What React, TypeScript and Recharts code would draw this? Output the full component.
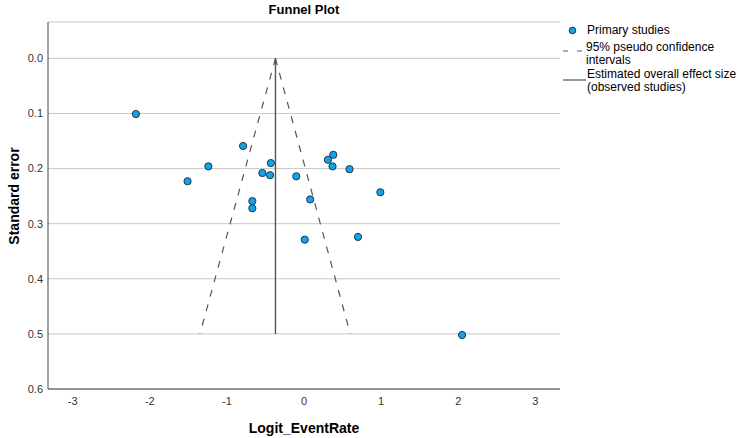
import React from "react";
import {
  ScatterChart,
  Scatter,
  XAxis,
  YAxis,
  CartesianGrid,
  ReferenceLine,
  Label,
} from "recharts";

const effectX = [-2.18, -1.51, -1.24, -0.79, -0.43, -0.54, -0.44, -0.67, -0.67, -0.1, 0.38, 0.31, 0.37, 0.59, 0.99, 0.08, 0.01, 0.7, 2.05];
const standardError = [0.101, 0.223, 0.196, 0.159, 0.19, 0.208, 0.212, 0.259, 0.272, 0.214, 0.175, 0.184, 0.196, 0.201, 0.243, 0.256, 0.329, 0.324, 0.502];

const overallEffect = -0.37;
const funnelBottomSE = 0.5;
const funnelLeftX = -1.35;
const funnelRightX = 0.6;

const xTicks = [-3, -2, -1, 0, 1, 2, 3];
const yTicks = [0, 0.1, 0.2, 0.3, 0.4, 0.5, 0.6];

const data = effectX.map((x, i) => ({ x, y: standardError[i] }));

const FONT = "'Liberation Sans', Arial, sans-serif";

export default function App() {
  return (
    <div style={{ position: "absolute", left: 0, top: 0, width: 738, height: 438, background: "#fff", fontFamily: FONT }}>
      <div style={{ position: "absolute", left: 0, width: 608, top: 2, textAlign: "center", fontSize: 13, fontWeight: "bold", color: "#000" }}>
        Funnel Plot
      </div>
      <ScatterChart width={738} height={438} margin={{ top: 22, right: 178, left: 0, bottom: 0 }}>
        <CartesianGrid horizontal={true} vertical={false} stroke="#c8c8c8" strokeWidth={1} />
        <XAxis
          type="number"
          dataKey="x"
          domain={[-3.32, 3.32]}
          ticks={xTicks}
          allowDataOverflow
          height={49}
          tickLine={false}
          axisLine={{ stroke: "#444" }}
          tick={{ fontSize: 11, fill: "#333", fontFamily: FONT }}
        >
          <Label
            value="Logit_EventRate"
            position="insideBottom"
            offset={5}
            style={{ fontSize: 14, fontWeight: "bold", fill: "#000", fontFamily: FONT }}
          />
        </XAxis>
        <YAxis
          type="number"
          dataKey="y"
          reversed
          domain={[-0.066, 0.6]}
          ticks={yTicks}
          allowDataOverflow
          width={48}
          tickSize={3}
          tickLine={false}
          axisLine={{ stroke: "#444" }}
          tickFormatter={(v: number) => v.toFixed(1)}
          tick={{ fontSize: 11, fill: "#333", fontFamily: FONT }}
        >
          <Label
            content={() => (
              <text
                x={19}
                y={196}
                transform="rotate(-90 19 196)"
                textAnchor="middle"
                style={{ fontSize: 14, fontWeight: "bold", fill: "#000", fontFamily: FONT }}
              >
                Standard error
              </text>
            )}
          />
        </YAxis>
        <ReferenceLine
          segment={[{ x: overallEffect, y: 0 }, { x: funnelLeftX, y: funnelBottomSE }]}
          stroke="#555"
          strokeWidth={1.2}
          strokeDasharray="7 8"
        />
        <ReferenceLine
          segment={[{ x: overallEffect, y: 0 }, { x: funnelRightX, y: funnelBottomSE }]}
          stroke="#555"
          strokeWidth={1.2}
          strokeDasharray="7 8"
        />
        <ReferenceLine
          segment={[{ x: overallEffect, y: 0 }, { x: overallEffect, y: funnelBottomSE }]}
          stroke="#555"
          strokeWidth={1.4}
        />
        <Scatter
          data={data}
          isAnimationActive={false}
          shape={(p: any) => (
            <circle cx={p.cx} cy={p.cy} r={3.6} fill="#12a4e6" stroke="#1d3550" strokeWidth={1} />
          )}
        />
      </ScatterChart>
      <div style={{ position: "absolute", left: 560, top: 22, width: 178, fontSize: 12, color: "#000", lineHeight: "13px" }}>
        <svg width={26} height={90} style={{ position: "absolute", left: 0, top: 0 }}>
          <circle cx={12.5} cy={8.5} r={3.3} fill="#12a4e6" stroke="#1d3550" strokeWidth={1} />
          <line x1={3} y1={29} x2={26} y2={29} stroke="#555" strokeWidth={1} strokeDasharray="5 9" />
          <line x1={3} y1={58} x2={27} y2={58} stroke="#555" strokeWidth={1.2} />
        </svg>
        <div style={{ position: "absolute", left: 27, top: 2, whiteSpace: "nowrap" }}>Primary studies</div>
        <div style={{ position: "absolute", left: 26, top: 19, whiteSpace: "nowrap" }}>
          95% pseudo confidence
          <br />
          intervals
        </div>
        <div style={{ position: "absolute", left: 27, top: 46, whiteSpace: "nowrap" }}>
          Estimated overall effect size
          <br />
          (observed studies)
        </div>
      </div>
    </div>
  );
}
